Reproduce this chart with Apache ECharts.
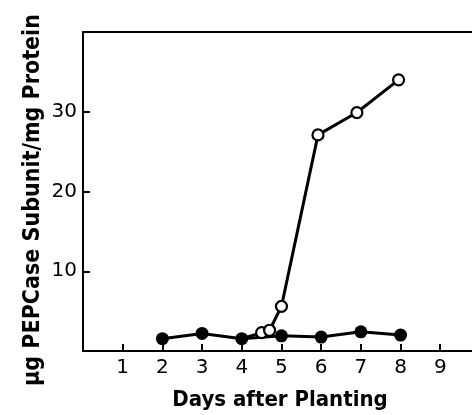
<!DOCTYPE html>
<html><head><meta charset="utf-8">
<script src="https://cdn.jsdelivr.net/npm/echarts@6/dist/echarts.min.js"></script>
<style>html,body{margin:0;padding:0;background:#fff}#c{width:472px;height:415px}</style>
</head><body><div id="c"></div>
<script>
const openDays = [4, 4.5, 4.7, 5, 5.92, 6.9, 7.95];
const openValues = [1.55, 2.3, 2.6, 5.6, 27.1, 29.9, 34.0];
const filledDays = [2, 3, 4, 5, 6, 7, 8];
const filledValues = [1.55, 2.2, 1.55, 1.9, 1.75, 2.4, 2.0];
const xTickLabels = ['1','2','3','4','5','6','7','8','9'];
const yTickLabels = ['10','20','30'];
const xTitle = 'Days after Planting';
const yTitle = 'μg PEPCase Subunit/mg Protein';

const chart = echarts.init(document.getElementById('c'));
const openData = openDays.map((d,i)=> i===0 ? {value:[d, openValues[i]], symbol:'none'} : [d, openValues[i]]);
const filledData = filledDays.map((d,i)=>[d, filledValues[i]]);
const FONT = 'DejaVu Sans';
const TFONT = 'DejaVu Sans Condensed';
chart.setOption({
  animation: false,
  grid: {left: 83, right: 0, top: 32, bottom: 64, containLabel: false, outerBoundsMode: 'none'},
  graphic: [{
    type: 'text', x: 280, y: 400,
    style: {text: xTitle, fontFamily: TFONT, fontWeight: 'bold', fontSize: 22, fill: '#000',
      x: 0, y: 0, textAlign: 'center', textVerticalAlign: 'middle'}
  },{
    type: 'text', x: 33, y: 200, rotation: Math.PI/2,
    style: {text: yTitle, fontFamily: TFONT, fontWeight: 'bold', fontSize: 23, fill: '#000',
      x: 0, y: 0, textAlign: 'center', textVerticalAlign: 'middle'}
  }],
  xAxis: [{
    type: 'value', min: 0, max: 9.8, interval: 1,
    axisLine: {lineStyle: {color: '#000', width: 2}},
    axisTick: {inside: true, length: 7, lineStyle: {color: '#000', width: 2}},
    splitLine: {show: false},
    axisLabel: {color: '#000', fontFamily: FONT, fontSize: 20, margin: 7,
      showMaxLabel: false,
      formatter: v => xTickLabels.includes(String(v)) ? String(v) : ''}
  },{
    type: 'value', position: 'top', min: 0, max: 9.8,
    axisLine: {show: true, lineStyle: {color: '#000', width: 2}},
    axisTick: {show: false}, axisLabel: {show: false}, splitLine: {show: false}
  }],
  yAxis: {
    type: 'value', min: 0, max: 40, interval: 10,
    axisLine: {show: true, lineStyle: {color: '#000', width: 2}},
    axisTick: {inside: true, length: 7, lineStyle: {color: '#000', width: 2}},
    splitLine: {show: false},
    axisLabel: {color: '#000', fontFamily: FONT, fontSize: 20, margin: 6,
      formatter: v => yTickLabels.includes(String(v)) ? String(v) : ''}
  },
  series: [{
    type: 'line', data: filledData, symbol: 'circle', symbolSize: 13,
    lineStyle: {color: '#000', width: 3}, itemStyle: {color: '#000'}, z: 2
  },{
    type: 'line', data: openData, symbol: 'circle', symbolSize: 11,
    lineStyle: {color: '#000', width: 3},
    itemStyle: {color: '#fff', borderColor: '#000', borderWidth: 2.2}, z: 3,
    showAllSymbol: true
  }]
});
</script></body></html>
